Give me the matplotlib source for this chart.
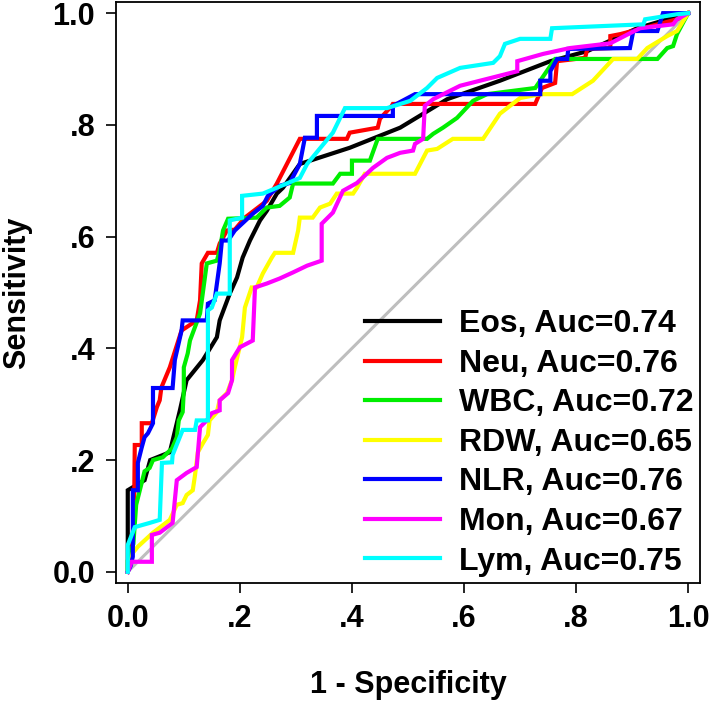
import matplotlib
matplotlib.use("Agg")
import matplotlib.pyplot as plt

plt.rcParams['font.family'] = ['Liberation Sans', 'DejaVu Sans']
plt.rcParams['font.weight'] = 'bold'

# ROC curves: (1 - specificity, sensitivity)
eos_x = [0, 0, 0.03, 0.04, 0.075, 0.093, 0.105, 0.134, 0.159, 0.164, 0.182, 0.195, 0.205, 0.218,
         0.236, 0.248, 0.266, 0.277, 0.307, 0.396, 0.486, 0.57, 0.664, 0.754, 0.82, 0.909, 1.0]
eos_y = [0, 0.146, 0.164, 0.2, 0.214, 0.289, 0.343, 0.379, 0.42, 0.45, 0.498, 0.527, 0.5625, 0.593,
         0.629, 0.646, 0.677, 0.6875, 0.73, 0.759, 0.795, 0.846, 0.879, 0.914, 0.932, 0.973, 1.0]

neu_x = [0, 0.005, 0.011, 0.0125, 0.025, 0.025, 0.043, 0.052, 0.057, 0.06, 0.075, 0.096, 0.123,
         0.129, 0.132, 0.143, 0.159, 0.164, 0.177, 0.191, 0.209, 0.248, 0.266, 0.307, 0.391, 0.396,
         0.446, 0.45, 0.471, 0.473, 0.727, 0.739, 0.7625, 0.766, 0.816, 0.82, 0.861, 0.861, 0.879,
         0.98, 1.0]
neu_y = [0, 0.02, 0.08, 0.227, 0.227, 0.266, 0.266, 0.295, 0.307, 0.33, 0.366, 0.432, 0.45,
         0.486, 0.552, 0.571, 0.571, 0.5875, 0.611, 0.6125, 0.634, 0.664, 0.695, 0.775, 0.775, 0.786,
         0.795, 0.811, 0.834, 0.8375, 0.8375, 0.866, 0.875, 0.914, 0.92, 0.936, 0.9375, 0.959, 0.9625,
         0.989, 1.0]

wbc_x = [0, 0.0, 0.01, 0.015, 0.025, 0.03, 0.039, 0.045, 0.0625, 0.079, 0.0875, 0.091, 0.098, 0.1,
         0.1, 0.107, 0.111, 0.129, 0.141, 0.159, 0.164, 0.17, 0.179, 0.23, 0.248, 0.271, 0.289,
         0.295, 0.366, 0.379, 0.4, 0.4, 0.432, 0.446, 0.534, 0.545, 0.5625, 0.5875, 0.616, 0.641,
         0.727, 0.7625, 0.945, 0.9625, 0.973, 0.98, 1.0]
wbc_y = [0, 0.02, 0.05, 0.12, 0.16, 0.18, 0.186, 0.2, 0.205, 0.221, 0.241, 0.271, 0.286, 0.325,
         0.366, 0.391, 0.414, 0.4625, 0.552, 0.557, 0.575, 0.611, 0.632, 0.634, 0.652, 0.655, 0.67,
         0.695, 0.695, 0.7125, 0.7125, 0.736, 0.736, 0.775, 0.775, 0.784, 0.795, 0.8125, 0.843, 0.855,
         0.866, 0.918, 0.918, 0.9375, 0.941, 0.9625, 1.0]

rdw_x = [0, 0.009, 0.018, 0.045, 0.075, 0.0875, 0.098, 0.105, 0.116, 0.12, 0.125, 0.134, 0.143,
         0.146, 0.159, 0.164, 0.177, 0.186, 0.191, 0.204, 0.209, 0.221, 0.23, 0.241, 0.257, 0.2625,
         0.295, 0.304, 0.307, 0.33, 0.343, 0.361, 0.373, 0.402, 0.409, 0.423, 0.5125, 0.534, 0.552,
         0.58, 0.634, 0.664, 0.7, 0.736, 0.793, 0.83, 0.866, 0.909, 0.927, 0.9625, 0.98, 0.991, 1.0]
rdw_y = [0, 0.034, 0.045, 0.07, 0.093, 0.12, 0.123, 0.1375, 0.146, 0.173, 0.214, 0.23, 0.245,
         0.271, 0.286, 0.307, 0.32, 0.343, 0.366, 0.42, 0.473, 0.509, 0.509, 0.534, 0.5625, 0.571,
         0.571, 0.611, 0.634, 0.634, 0.652, 0.659, 0.677, 0.677, 0.6875, 0.7125, 0.7125, 0.754, 0.757,
         0.775, 0.775, 0.82, 0.848, 0.855, 0.855, 0.879, 0.918, 0.918, 0.9375, 0.959, 0.968, 0.986, 1.0]

nlr_x = [0, 0.005, 0.009, 0.009, 0.018, 0.018, 0.025, 0.03, 0.036, 0.045, 0.045, 0.08,
         0.084, 0.096, 0.098, 0.141, 0.143, 0.155, 0.164, 0.168, 0.179, 0.191, 0.223, 0.241, 0.25,
         0.271, 0.289, 0.307, 0.316, 0.3375, 0.3375, 0.473, 0.473, 0.5125, 0.736, 0.736, 0.754,
         0.754, 0.766, 0.784, 0.786, 0.896, 0.902, 0.945, 0.955, 1.0]
nlr_y = [0, 0.01, 0.027, 0.146, 0.146, 0.195, 0.223, 0.241, 0.248, 0.266, 0.329, 0.329,
         0.379, 0.432, 0.45, 0.45, 0.48, 0.486, 0.552, 0.593, 0.593, 0.611, 0.641, 0.655, 0.673,
         0.691, 0.696, 0.73, 0.777, 0.777, 0.816, 0.816, 0.834, 0.855, 0.855, 0.879, 0.879,
         0.896, 0.918, 0.918, 0.936, 0.9375, 0.968, 0.968, 1.0, 1.0]

mon_x = [0, 0.007, 0.043, 0.043, 0.057, 0.08, 0.0875, 0.105, 0.123, 0.129, 0.141, 0.15, 0.164,
         0.164, 0.179, 0.186, 0.186, 0.2, 0.223, 0.227, 0.248, 0.271, 0.295, 0.32, 0.346, 0.346,
         0.366, 0.384, 0.409, 0.4375, 0.4625, 0.486, 0.509, 0.5125, 0.527, 0.53, 0.545, 0.593, 0.695,
         0.695, 0.741, 0.789, 0.861, 0.893, 0.914, 0.973, 0.98, 1.0]
mon_y = [0, 0.018, 0.018, 0.066, 0.07, 0.0875, 0.164, 0.177, 0.1875, 0.259, 0.271, 0.284, 0.289,
         0.307, 0.32, 0.343, 0.379, 0.402, 0.414, 0.509, 0.516, 0.525, 0.536, 0.548, 0.557, 0.623,
         0.643, 0.682, 0.696, 0.723, 0.741, 0.75, 0.754, 0.766, 0.775, 0.834, 0.846, 0.87, 0.896,
         0.914, 0.927, 0.9375, 0.946, 0.9625, 0.973, 0.98, 0.989, 1.0]

lym_x = [0, 0, 0.0125, 0.039, 0.057, 0.061, 0.079, 0.08, 0.098, 0.12, 0.123, 0.143, 0.143, 0.15,
         0.159, 0.182, 0.182, 0.204, 0.204, 0.241, 0.266, 0.307, 0.32, 0.366, 0.3875, 0.4625, 0.504,
         0.534, 0.552, 0.593, 0.652, 0.664, 0.673, 0.7, 0.754, 0.757, 0.92, 0.923, 0.98, 1.0]
lym_y = [0, 0.048, 0.08, 0.0875, 0.093, 0.195, 0.196, 0.209, 0.254, 0.254, 0.271, 0.271, 0.468,
         0.473, 0.498, 0.498, 0.629, 0.634, 0.673, 0.677, 0.6875, 0.705, 0.73, 0.786, 0.83, 0.83,
         0.843, 0.866, 0.884, 0.902, 0.911, 0.923, 0.945, 0.954, 0.954, 0.973, 0.98, 0.989, 0.998, 1.0]

names = ["Eos", "Neu", "WBC", "RDW", "NLR", "Mon", "Lym"]
aucs = [0.74, 0.76, 0.72, 0.65, 0.76, 0.67, 0.75]
colors = ["black", "red", "#00ee00", "yellow", "blue", "magenta", "cyan"]
xs = [eos_x, neu_x, wbc_x, rdw_x, nlr_x, mon_x, lym_x]
ys = [eos_y, neu_y, wbc_y, rdw_y, nlr_y, mon_y, lym_y]

fig = plt.figure(figsize=(7.09, 7.03), dpi=100)
ax = fig.add_axes([0.1636, 0.1707, 0.8237, 0.8265])

ax.plot([0, 1], [0, 1], color="#bebebe", lw=2.2, zorder=1)
for name, auc, c, x, y in zip(names, aucs, colors, xs, ys):
    ax.plot(x, y, color=c, lw=3, label="{}, Auc={:.2f}".format(name, auc),
            solid_joinstyle='miter')

ax.set_xlim(-0.021, 1.021)
ax.set_ylim(-0.02, 1.02)
ticks = [0, 0.2, 0.4, 0.6, 0.8, 1.0]
tick_labels = ["0.0", ".2", ".4", ".6", ".8", "1.0"]
ax.set_xticks(ticks)
ax.set_xticklabels(tick_labels)
ax.set_yticks(ticks)
ax.set_yticklabels(tick_labels)
ax.tick_params(direction='out', length=7, width=1.2, labelsize=22, pad=8)
for s in ax.spines.values():
    s.set_linewidth(1.3)

ax.set_xlabel("1 - Specificity", fontsize=22, fontweight='bold', labelpad=26)
ax.set_ylabel("Sensitivity", fontsize=22, fontweight='bold', labelpad=15)

ax.legend(loc='lower right', frameon=False, fontsize=23, handlelength=2.35,
          handletextpad=0.6, labelspacing=0.3, borderaxespad=0.0, borderpad=0.2)

plt.savefig("out.png", dpi=100)
